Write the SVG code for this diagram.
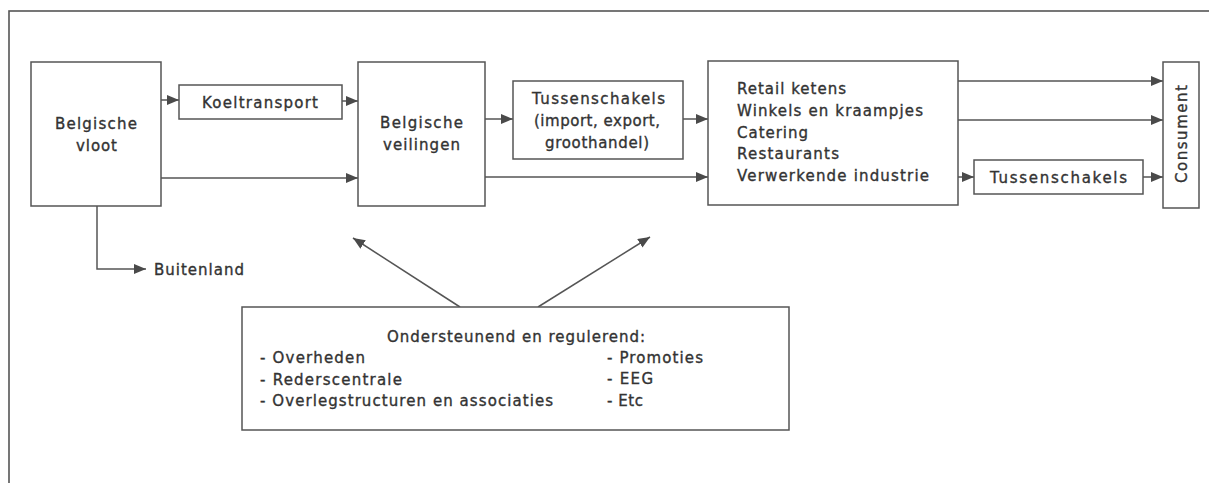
<svg xmlns="http://www.w3.org/2000/svg" width="1209" height="483" viewBox="0 0 1209 483">
<defs>
<style>
.box{fill:#fff;stroke:#555;stroke-width:1.5}
.frame{fill:none;stroke:#555;stroke-width:1.6}
.t{font-family:"DejaVu Sans","Liberation Sans",sans-serif;font-size:15px;fill:#333;stroke:#333;stroke-width:0.35}
.m{text-anchor:middle}
.c{fill:none;stroke:#555;stroke-width:1.5}
</style>
<marker id="ah" markerUnits="userSpaceOnUse" markerWidth="13" markerHeight="11" refX="12" refY="5" orient="auto">
<path d="M0,0 L12,5 L0,10 z" fill="#4a4a4a"/>
</marker>
</defs>
<rect width="1209" height="483" fill="#fff"/>
<rect class="frame" x="9" y="11" width="1220" height="490"/>

<g id="connectors">
<path class="c" d="M161,100 L179,100" marker-end="url(#ah)"/>
<path class="c" d="M342,101 L358,101" marker-end="url(#ah)"/>
<path class="c" d="M161,178 L358,178" marker-end="url(#ah)"/>
<path class="c" d="M485,119 L513,119" marker-end="url(#ah)"/>
<path class="c" d="M683,119 L708,119" marker-end="url(#ah)"/>
<path class="c" d="M485,177 L708,177" marker-end="url(#ah)"/>
<path class="c" d="M958,81 L1163,81" marker-end="url(#ah)"/>
<path class="c" d="M958,120 L1163,120" marker-end="url(#ah)"/>
<path class="c" d="M958,177 L974,177" marker-end="url(#ah)"/>
<path class="c" d="M1143,177 L1163,177" marker-end="url(#ah)"/>
<path class="c" d="M97,206 L97,269 L146,269" marker-end="url(#ah)"/>
<path class="c" d="M460,307 L353,238" marker-end="url(#ah)"/>
<path class="c" d="M538,307 L650,237" marker-end="url(#ah)"/>
</g>

<g id="vloot">
<rect class="box" x="31" y="62" width="130" height="144"/>
<text class="t m" x="96" y="129" textLength="82" lengthAdjust="spacing">Belgische</text>
<text class="t m" x="96.5" y="151" textLength="41" lengthAdjust="spacing">vloot</text>
</g>

<g id="koeltransport">
<rect class="box" x="179" y="85" width="163" height="34"/>
<text class="t m" x="260" y="108" textLength="116" lengthAdjust="spacing">Koeltransport</text>
</g>

<g id="buitenland">
<text class="t" x="154" y="275" textLength="90" lengthAdjust="spacing">Buitenland</text>
</g>

<g id="veilingen">
<rect class="box" x="358" y="62" width="127" height="144"/>
<text class="t m" x="421.5" y="128" textLength="83" lengthAdjust="spacing">Belgische</text>
<text class="t m" x="421.5" y="150" textLength="77" lengthAdjust="spacing">veilingen</text>
</g>

<g id="tussenschakels1">
<rect class="box" x="513" y="81" width="170" height="78"/>
<text class="t m" x="598.5" y="104" textLength="133" lengthAdjust="spacing">Tussenschakels</text>
<text class="t m" x="597" y="126" textLength="126" lengthAdjust="spacing">(import, export,</text>
<text class="t m" x="597" y="148" textLength="104" lengthAdjust="spacing">groothandel)</text>
</g>

<g id="retail">
<rect class="box" x="708" y="61" width="250" height="144"/>
<text class="t" x="737" y="94" textLength="109" lengthAdjust="spacing">Retail ketens</text>
<text class="t" x="737" y="116" textLength="186" lengthAdjust="spacing">Winkels en kraampjes</text>
<text class="t" x="737" y="138" textLength="71" lengthAdjust="spacing">Catering</text>
<text class="t" x="737" y="159" textLength="102" lengthAdjust="spacing">Restaurants</text>
<text class="t" x="737" y="181" textLength="192" lengthAdjust="spacing">Verwerkende industrie</text>
</g>

<g id="tussenschakels2">
<rect class="box" x="974" y="160" width="169" height="34"/>
<text class="t m" x="1058.5" y="183" textLength="137" lengthAdjust="spacing">Tussenschakels</text>
</g>

<g id="consument">
<rect class="box" x="1163" y="62" width="36" height="146"/>
<text class="t m" transform="translate(1187,134) rotate(-90)" x="0" y="0" textLength="98" lengthAdjust="spacing">Consument</text>
</g>

<g id="ondersteunend">
<rect class="box" x="242" y="307" width="547" height="123"/>
<text class="t m" x="516" y="342" textLength="258" lengthAdjust="spacing">Ondersteunend en regulerend:</text>
<text class="t" x="260" y="363" textLength="105" lengthAdjust="spacing">- Overheden</text>
<text class="t" x="260" y="385" textLength="142" lengthAdjust="spacing">- Rederscentrale</text>
<text class="t" x="260" y="406" textLength="293" lengthAdjust="spacing">- Overlegstructuren en associaties</text>
<text class="t" x="607" y="363" textLength="96" lengthAdjust="spacing">- Promoties</text>
<text class="t" x="607" y="384" textLength="46" lengthAdjust="spacing">- EEG</text>
<text class="t" x="607" y="406" textLength="36" lengthAdjust="spacing">- Etc</text>
</g>
</svg>
